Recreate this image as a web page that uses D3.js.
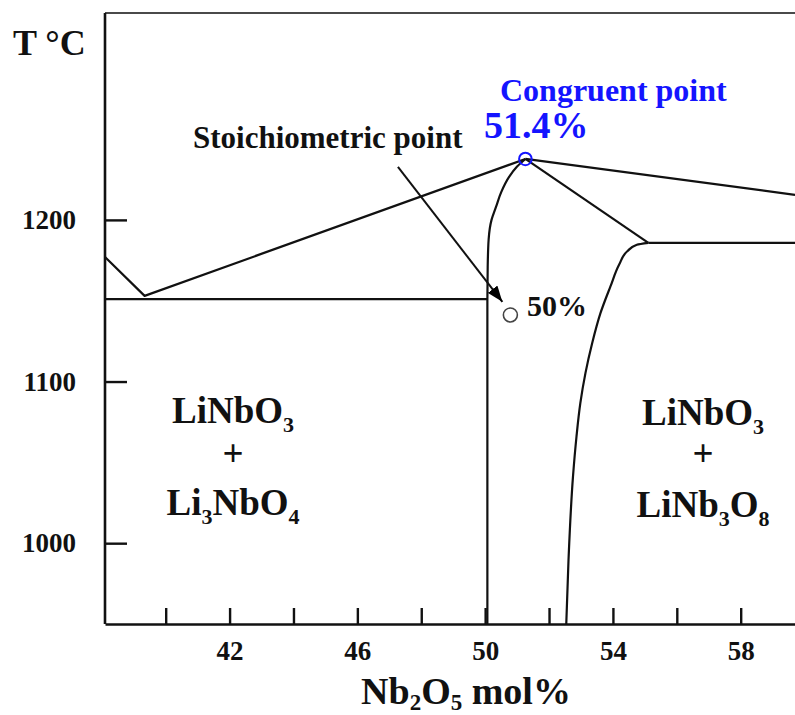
<!DOCTYPE html>
<html><head><meta charset="utf-8">
<script src="https://cdn.jsdelivr.net/npm/d3@7"></script>
<style>
body{margin:0;background:#fff}
text{font-family:"Liberation Serif","Times New Roman",serif;font-weight:bold}
</style>
</head><body><svg id="c" width="795" height="715"></svg>
<script>
// ---- data (Nb2O5 mol%, T °C) ----
const xDomain = [38.1, 59.7];
const yDomain = [950, 1328];
const xTicks = [40, 42, 44, 46, 48, 50, 52, 54, 56, 58];
const xTickLabels = [42, 46, 50, 54, 58];
const yTicks = [1000, 1100, 1200];
const leftLiquidus = [[38.1, 1177], [39.34, 1153], [51.26, 1237.7]];
const rightLiquidus = [[51.26, 1237.7], [59.7, 1215.5]];
const eutecticLine = [[38.1, 1151], [50.07, 1151]];
const congruentToPeritectic = [[51.26, 1237.7], [55.11, 1185.8]];
const peritecticLine = [[55.11, 1185.8], [59.7, 1185.8]];
const leftSolidus = [[50.07, 950], [50.07, 1150], [50.08, 1171], [50.11, 1188], [50.2, 1200],
  [50.34, 1208], [50.5, 1217], [50.75, 1226.6], [51.0, 1233], [51.26, 1237.7]];
const rightSolidus = [[52.54, 950], [52.61, 989.7], [52.75, 1041.2], [52.86, 1066], [52.98, 1086.6],
  [53.14, 1105.2], [53.35, 1123.7], [53.61, 1142.3], [53.92, 1158.7], [54.2, 1172.5],
  [54.45, 1180.6], [54.75, 1184.6], [55.11, 1185.8]];
const congruentPoint = [51.26, 1237.7];
const stoichPoint = [50.79, 1141.2];
const arrowLine = [[47.27, 1232.8], [50.54, 1149.3]];

const svg = d3.select("#c");
const x = d3.scaleLinear().domain(xDomain).range([105, 795]);
const y = d3.scaleLinear().domain(yDomain).range([624, 13]);

const defs = svg.append("defs");
defs.append("marker").attr("id", "arr").attr("viewBox", "0 0 16 12")
  .attr("refX", 16).attr("refY", 6).attr("markerWidth", 16).attr("markerHeight", 12)
  .attr("markerUnits", "userSpaceOnUse").attr("orient", "auto")
  .append("path").attr("d", "M0,0 L16,6 L0,12 Z").attr("fill", "#000");

// top border
svg.append("line").attr("x1", 105).attr("x2", 795).attr("y1", 13).attr("y2", 13)
  .attr("stroke", "#4a4a4a").attr("stroke-width", 2.2);

// axes
const yAxis = d3.axisLeft(y).tickValues(yTicks).tickSize(-22).tickSizeOuter(0).tickPadding(29)
  .tickFormat(d3.format("d"));
const gy = svg.append("g").attr("transform", "translate(105,0)").call(yAxis);
const xAxis = d3.axisBottom(x).tickValues(xTicks).tickSize(-16).tickSizeOuter(0).tickPadding(17)
  .tickFormat(d => xTickLabels.includes(d) ? d : "");
const gx = svg.append("g").attr("transform", "translate(0,624)").call(xAxis);
[gx, gy].forEach(g => {
  g.attr("font-family", null).attr("font-size", null);
  g.select(".domain").attr("stroke", "#111").attr("stroke-width", 2.6);
  g.selectAll(".tick line").attr("stroke", "#111").attr("stroke-width", 2.4);
  g.selectAll(".tick text").attr("fill", "#111").style("font-size", "27px")
    .style("font-family", "'Liberation Serif', 'Times New Roman', serif").style("font-weight", "bold");
});
gy.select(".domain").attr("d", "M0,624V13");

// curves
const line = d3.line().x(d => x(d[0])).y(d => y(d[1]));
const curve = d3.line().x(d => x(d[0])).y(d => y(d[1])).curve(d3.curveMonotoneY);
const stroke = g => g.attr("fill", "none").attr("stroke", "#111").attr("stroke-width", 2.2)
  .attr("stroke-linejoin", "round");
[leftLiquidus, rightLiquidus, eutecticLine, congruentToPeritectic, peritecticLine].forEach(d =>
  svg.append("path").attr("d", line(d)).call(stroke));
[leftSolidus, rightSolidus].forEach(d => svg.append("path").attr("d", curve(d)).call(stroke));

// arrow
svg.append("path").attr("d", line(arrowLine)).attr("stroke", "#111").attr("stroke-width", 2)
  .attr("fill", "none").attr("marker-end", "url(#arr)");

// points
svg.append("circle").attr("cx", x(stoichPoint[0])).attr("cy", y(stoichPoint[1])).attr("r", 7)
  .attr("fill", "#fff").attr("stroke", "#444").attr("stroke-width", 1.6);
svg.append("circle").attr("cx", x(congruentPoint[0])).attr("cy", y(congruentPoint[1])).attr("r", 6.3)
  .attr("fill", "none").attr("stroke", "#1414ff").attr("stroke-width", 2);

// texts (subscripts as shifted tspans)
function txt(xp, yp, size, content, opts = {}) {
  const t = svg.append("text").attr("x", xp).attr("y", yp).style("font-size", size + "px")
    .attr("fill", opts.fill || "#111").attr("text-anchor", opts.anchor || "start");
  const shift = opts.shift || 9;
  let down = false;
  content.forEach(part => {
    const isSub = typeof part !== "string";
    const s = t.append("tspan").text(isSub ? part.sub : part);
    if (isSub) {
      s.style("font-size", Math.round(size * 0.6) + "px");
      if (!down) { s.attr("dy", shift); down = true; }
    } else if (down) { s.attr("dy", -shift); down = false; }
  });
  return t;
}
txt(13, 55, 36, ["T \u00B0C"]);
txt(193, 148, 31, ["Stoichiometric point"]);
txt(500, 101, 32, ["Congruent point"], { fill: "#1414ff" });
txt(484, 138, 38, ["51.4%"], { fill: "#1414ff" });
txt(527, 316, 30, ["50%"]);
txt(466, 704, 38, ["Nb", { sub: "2" }, "O", { sub: "5" }, " mol%"], { anchor: "middle", shift: 6 });
txt(233, 423, 37, ["LiNbO", { sub: "3" }], { anchor: "middle" });
txt(233, 466, 37, ["+"], { anchor: "middle" });
txt(233, 515, 37, ["Li", { sub: "3" }, "NbO", { sub: "4" }], { anchor: "middle" });
txt(703, 425, 37, ["LiNbO", { sub: "3" }], { anchor: "middle" });
txt(703, 466, 37, ["+"], { anchor: "middle" });
txt(703, 517, 37, ["LiNb", { sub: "3" }, "O", { sub: "8" }], { anchor: "middle" });
</script>
</body></html>
